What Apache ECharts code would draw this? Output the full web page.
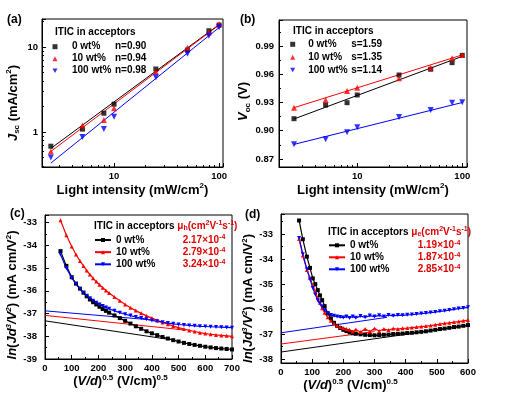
<!DOCTYPE html>
<html>
<head>
<meta charset="utf-8">
<script src="https://cdn.jsdelivr.net/npm/echarts@6/dist/echarts.min.js"></script>
<style>
    html, body { margin: 0; padding: 0; background: #fff; }
    #main { width: 508px; height: 399px; }
</style>
</head>
<body>
<div id="main"></div>
<script>
    // (a) Jsc vs light intensity
    var lightIntensity = [2.5, 5, 8, 10, 25, 50, 80, 100];
    var jsc0 = [0.68, 1.08, 1.66, 2.12, 5.5, 9.2, 15.5, 18.1];
    var jsc10 = [0.59, 1.19, 1.38, 1.90, 5.1, 9.8, 14.8, 18.5];
    var jsc100 = [0.50, 0.87, 1.08, 1.51, 4.4, 8.3, 13.5, 17.0];
    var fitX = [2.5, 100];
    var jscFit0 = [0.64, 18.3];
    var jscFit10 = [0.59, 18.1];
    var jscFit100 = [0.43, 16.9];

    // (b) Voc vs light intensity
    var voc0 = [0.9128, 0.9273, 0.9298, 0.938, 0.9592, 0.9653, 0.9723, 0.980];
    var voc10 = [0.9245, 0.9327, 0.9422, 0.9457, 0.9557, 0.967, 0.977, 0.9804];
    var voc100 = [0.8856, 0.8909, 0.8983, 0.9037, 0.9146, 0.922, 0.9298, 0.9302];
    var vocFit0 = [0.9125, 0.979];
    var vocFit10 = [0.9245, 0.9805];
    var vocFit100 = [0.8855, 0.930];

    // (c) hole-only SCLC
    var cX = [58, 80, 100, 116, 131, 144, 156, 168, 180, 192, 204, 216, 228, 240, 260, 280, 300, 320, 340, 360,
        380, 400, 420, 440, 460, 480, 500, 520, 540, 560, 580, 600, 620, 640, 660, 680, 700];
    var c0 = [-34.25, -34.9, -35.4, -35.68, -35.9, -36.08, -36.24, -36.38, -36.5, -36.6, -36.7, -36.8, -36.88, -36.96,
        -37.08, -37.2, -37.32, -37.44, -37.56, -37.67, -37.78, -37.87, -37.95, -38.03, -38.1, -38.17, -38.23, -38.29,
        -38.34, -38.38, -38.42, -38.46, -38.49, -38.52, -38.54, -38.56, -38.58];
    var c10 = [-32.89, -33.55, -34.05, -34.4, -34.68, -34.9, -35.1, -35.28, -35.44, -35.59, -35.73, -35.86, -35.98, -36.09,
        -36.27, -36.44, -36.6, -36.74, -36.87, -36.99, -37.1, -37.2, -37.3, -37.39, -37.47, -37.55, -37.62, -37.68,
        -37.74, -37.79, -37.84, -37.88, -37.91, -37.94, -37.96, -37.98, -38.0];
    var c100 = [-34.4, -35.0, -35.42, -35.7, -35.92, -36.08, -36.22, -36.33, -36.43, -36.52, -36.6, -36.67, -36.73, -36.79,
        -36.88, -36.96, -37.03, -37.09, -37.15, -37.2, -37.25, -37.3, -37.34, -37.38, -37.42, -37.45, -37.48, -37.5,
        -37.52, -37.54, -37.56, -37.57, -37.58, -37.59, -37.6, -37.61, -37.62];
    var cFitX0 = [0, 460], cFit0 = [-37.32, -38.13];
    var cFitX10 = [0, 520], cFit10 = [-37.08, -37.72];
    var cFitX100 = [0, 400], cFit100 = [-36.88, -37.28];

    // (d) electron-only SCLC
    var dX = [58, 70, 83, 93, 102, 110, 118, 125, 132, 140, 150, 160, 170, 180, 190, 200, 210, 220, 230, 240,
        255, 270, 285, 300, 315, 330, 345, 360, 375, 390, 405, 420, 435, 450, 465, 480, 495, 510, 525, 540, 555, 570, 585, 600];
    var d0 = [-32.45, -33.2, -33.9, -34.35, -34.77, -35.0, -35.24, -35.45, -35.64, -35.88,
        -36.17, -36.37, -36.55, -36.67, -36.76, -36.83, -36.88, -36.93, -36.97, -36.99,
        -37.01, -37.03, -37.04, -37.05, -37.04, -37.03, -37.02, -37.0, -36.99, -36.98, -36.96, -36.95,
        -36.93, -36.91, -36.89, -36.86, -36.83, -36.8, -36.78, -36.75, -36.72, -36.7, -36.67, -36.64];
    var d10 = [-33.19, -33.85, -34.43, -34.75, -35.04, -35.3, -35.55, -35.75, -35.97, -36.15,
        -36.33, -36.47, -36.58, -36.66, -36.72, -36.76, -36.8, -36.83, -36.9, -36.82,
        -36.92, -36.8, -36.9, -36.78, -36.88, -36.8, -36.84, -36.78, -36.8, -36.77, -36.76, -36.74,
        -36.72, -36.7, -36.68, -36.66, -36.63, -36.6, -36.57, -36.55, -36.52, -36.5, -36.47, -36.44];
    var d100 = [-33.15, -33.8, -34.4, -34.8, -35.15, -35.42, -35.65, -35.78, -35.9, -36.05,
        -36.17, -36.24, -36.27, -36.3, -36.32, -36.34, -36.3, -36.36, -36.3, -36.35,
        -36.28, -36.33, -36.26, -36.3, -36.25, -36.3, -36.24, -36.27, -36.24, -36.25, -36.23, -36.22,
        -36.2, -36.18, -36.16, -36.14, -36.12, -36.09, -36.07, -36.04, -36.01, -35.98, -35.96, -35.93];
    var dFitX0 = [0, 600], dFit0 = [-37.72, -36.66];
    var dFitX10 = [0, 300], dFit10 = [-37.4, -36.9];
    var dFitX100 = [0, 340], dFit100 = [-36.95, -36.33];

    // legend texts
    var wtLabels = ['0 wt%', '10 wt%', '100 wt%'];
    var nValues = ['0.90', '0.94', '0.98'];
    var sValues = ['1.59', '1.35', '1.14'];
    var muH = ['2.17', '2.79', '3.24'];
    var muE = ['1.19', '1.87', '2.85'];

    // minor tick positions
    var minorLogX = [3, 4, 5, 6, 7, 8, 9, 20, 30, 40, 50, 60, 70, 80, 90];
    var minorLogY = [0.4, 0.5, 0.6, 0.7, 0.8, 0.9, 2, 3, 4, 5, 6, 7, 8, 9, 20];

    var colors = ['#000000', '#ff0000', '#0000ff'];
    var downTri = 'path://M0,0L10,0L5,9Z';
    var symbols = ['rect', 'triangle', downTri];
    var FONT = 'Liberation Sans, Arial, sans-serif';

    function pairs(xs, ys) {
        return xs.map(function(x, i) { return [x, ys[i]]; });
    }

    var richTitle = {
        n: { fontSize: 13, fontWeight: 'bold', fontFamily: FONT, lineHeight: 16, color: '#000' },
        i: { fontSize: 13, fontWeight: 'bold', fontStyle: 'italic', fontFamily: FONT, lineHeight: 16, color: '#000' },
        sup: { fontSize: 8, fontWeight: 'bold', fontFamily: FONT, verticalAlign: 'top', lineHeight: 8, color: '#000' },
        isup: { fontSize: 8, fontWeight: 'bold', fontStyle: 'italic', fontFamily: FONT, verticalAlign: 'top', lineHeight: 8, color: '#000' },
        sub: { fontSize: 8, fontWeight: 'bold', fontFamily: FONT, verticalAlign: 'bottom', lineHeight: 8, color: '#000' }
    };

    function nameStyle(pad) {
        return { fontSize: 13, fontWeight: 'bold', fontFamily: FONT, color: '#000', rich: richTitle, padding: pad || 0 };
    }

    function logLabel(v) {
        var l = Math.log(v) / Math.LN10;
        return Math.abs(l - Math.round(l)) < 1e-6 ? String(Math.round(v)) : '';
    }

    function intLabel(v) {
        return Math.abs(v - Math.round(v)) < 1e-6 ? String(Math.round(v)) : '';
    }

    function vocLabel(v) {
        var k = v / 0.03;
        return Math.abs(k - Math.round(k)) < 1e-6 ? v.toFixed(2) : '';
    }

    var axisLineStyle = { lineStyle: { color: '#000', width: 1 } };
    var labelStyle = { fontSize: 9.5, fontWeight: 'bold', fontFamily: FONT, color: '#000' };

    function mainAxis(extra) {
        var base = {
            axisLine: axisLineStyle,
            axisTick: { inside: true, length: 4, lineStyle: { color: '#000' } },
            minorTick: { show: false },
            splitLine: { show: false },
            nameLocation: 'middle'
        };
        for (var k in extra) base[k] = extra[k];
        return base;
    }

    function minorAxis(extra) {
        var base = {
            axisLine: { show: false },
            axisLabel: { show: false },
            splitLine: { show: false }
        };
        for (var k in extra) base[k] = extra[k];
        return base;
    }

    var xAxes = [
        mainAxis({
            gridIndex: 0, type: 'log', min: 2.06, max: 109,
            axisLabel: Object.assign({ margin: 4, formatter: logLabel }, labelStyle),
            name: 'Light intensity {n|(mW/cm}{sup|2}{n|)}', nameGap: 15, nameTextStyle: nameStyle()
        }),
        mainAxis({
            gridIndex: 1, type: 'log', min: 1.8, max: 110.9,
            axisLabel: Object.assign({ margin: 4, formatter: logLabel }, labelStyle),
            name: 'Light intensity {n|(mW/cm}{sup|2}{n|)}', nameGap: 15, nameTextStyle: nameStyle()
        }),
        mainAxis({
            gridIndex: 2, type: 'value', min: 0, max: 700, interval: 100,
            minorTick: { show: true, splitNumber: 2, length: 2, lineStyle: { color: '#000' } },
            axisLabel: Object.assign({ margin: 4 }, labelStyle),
            name: '{n|(}{i|V/d}{n|)}{sup|0.5}{n| (V/cm)}{sup|0.5}', nameGap: 14, nameTextStyle: nameStyle([0, 36, 0, 0])
        }),
        mainAxis({
            gridIndex: 3, type: 'value', min: 0, max: 600, interval: 100,
            minorTick: { show: true, splitNumber: 2, length: 2, lineStyle: { color: '#000' } },
            axisLabel: Object.assign({ margin: 4 }, labelStyle),
            name: '{n|(}{i|V/d}{n|)}{sup|0.5}{n| (V/cm)}{sup|0.5}', nameGap: 14, nameTextStyle: nameStyle([0, 48, 0, 0])
        }),
        minorAxis({
            gridIndex: 0, type: 'log', min: 2.06, max: 109, position: 'bottom',
            axisTick: { inside: true, length: 2, lineStyle: { color: '#000' }, customValues: minorLogX }
        }),
        minorAxis({
            gridIndex: 1, type: 'log', min: 1.8, max: 110.9, position: 'bottom',
            axisTick: { inside: true, length: 2, lineStyle: { color: '#000' }, customValues: minorLogX }
        })
    ];

    var yAxes = [
        mainAxis({
            gridIndex: 0, type: 'log', min: 0.387, max: 21.3,
            axisLabel: Object.assign({ margin: 4, formatter: logLabel }, labelStyle),
            name: '{i|J}{sub|sc}{n| (mA/cm}{sup|2}{n|)}', nameGap: 21, nameTextStyle: nameStyle([0, 20, 0, 0])
        }),
        mainAxis({
            gridIndex: 1, type: 'value', min: 0.8615, max: 1.0176,
            minorTick: { show: true, splitNumber: 2, length: 2, lineStyle: { color: '#000' } },
            axisLabel: Object.assign({ margin: 5, formatter: vocLabel }, labelStyle),
            name: '{i|V}{sub|oc}{n| (V)}', nameGap: 25, nameTextStyle: nameStyle([0, 16, 0, 0])
        }),
        mainAxis({
            gridIndex: 2, type: 'value', min: -39, max: -32.66, interval: 1,
            minorTick: { show: true, splitNumber: 2, length: 2, lineStyle: { color: '#000' } },
            axisLabel: Object.assign({ margin: 8, formatter: intLabel }, labelStyle),
            name: '{i|ln}{n|(}{i|Jd}{isup|3}{i|/V}{isup|2}{n|) (mA cm/V}{sup|2}{n|)}', nameGap: 23,
            nameTextStyle: nameStyle([0, 16, 0, 0])
        }),
        mainAxis({
            gridIndex: 3, type: 'value', min: -38.16, max: -32.19,
            minorTick: { show: true, splitNumber: 2, length: 2, lineStyle: { color: '#000' } },
            axisLabel: Object.assign({ margin: 8, formatter: intLabel }, labelStyle),
            name: '{i|ln}{n|(}{i|Jd}{isup|3}{i|/V}{isup|2}{n|) (mA cm/V}{sup|2}{n|)}', nameGap: 23,
            nameTextStyle: nameStyle([0, 20, 0, 0])
        }),
        minorAxis({
            gridIndex: 0, type: 'log', min: 0.387, max: 21.3, position: 'left',
            axisTick: { inside: true, length: 2, lineStyle: { color: '#000' }, customValues: minorLogY }
        })
    ];

    var series = [];
    var panelNames = { a: [], b: [], c: [], d: [] };

    function addScatter(panel, idx, axisIdx, xs, ys, fitYs) {
        var name = panel + idx;
        panelNames[panel].push(name);
        series.push({
            name: name, type: 'scatter', xAxisIndex: axisIdx, yAxisIndex: axisIdx,
            symbol: symbols[idx], symbolSize: idx === 0 ? 5 : 6,
            itemStyle: { color: colors[idx] }, z: 3,
            data: pairs(xs, ys)
        });
        series.push({
            name: name + 'fit', type: 'line', xAxisIndex: axisIdx, yAxisIndex: axisIdx,
            symbol: 'none', lineStyle: { color: colors[idx], width: 1 }, z: 2, silent: true,
            data: pairs(fitX, fitYs)
        });
    }

    function addCurve(panel, idx, axisIdx, xs, ys, fxs, fys) {
        var name = panel + idx;
        panelNames[panel].push(name);
        series.push({
            name: name, type: 'line', xAxisIndex: axisIdx, yAxisIndex: axisIdx,
            symbol: symbols[idx], symbolSize: 4, showAllSymbol: true,
            itemStyle: { color: colors[idx] }, lineStyle: { color: colors[idx], width: 1.2 }, z: 3,
            data: pairs(xs, ys)
        });
        series.push({
            name: name + 'fit', type: 'line', xAxisIndex: axisIdx, yAxisIndex: axisIdx,
            symbol: 'none', lineStyle: { color: colors[idx], width: 1 }, z: 2, silent: true,
            data: pairs(fxs, fys)
        });
    }

    addScatter('a', 0, 0, lightIntensity, jsc0, jscFit0);
    addScatter('a', 1, 0, lightIntensity, jsc10, jscFit10);
    addScatter('a', 2, 0, lightIntensity, jsc100, jscFit100);
    addScatter('b', 0, 1, lightIntensity, voc0, vocFit0);
    addScatter('b', 1, 1, lightIntensity, voc10, vocFit10);
    addScatter('b', 2, 1, lightIntensity, voc100, vocFit100);
    addCurve('c', 0, 2, cX, c0, cFitX0, cFit0);
    addCurve('c', 1, 2, cX, c10, cFitX10, cFit10);
    addCurve('c', 2, 2, cX, c100, cFitX100, cFit100);
    addCurve('d', 0, 3, dX, d0, dFitX0, dFit0);
    addCurve('d', 1, 3, dX, d10, dFitX10, dFit10);
    addCurve('d', 2, 3, dX, d100, dFitX100, dFit100);

    var legendText = { fontSize: 10, fontWeight: 'bold', fontFamily: FONT, color: '#000', lineHeight: 12 };

    function scatterLegend(panel, left, top, gap, spacer, label, values) {
        return {
            data: panelNames[panel], left: left, top: top, orient: 'vertical', padding: 0,
            itemWidth: 5, itemHeight: 5, itemGap: gap, selectedMode: false,
            textStyle: Object.assign({
                rich: {
                    g: { width: spacer },
                    a: Object.assign({ width: 43 }, legendText),
                    b: legendText
                }
            }, legendText),
            formatter: function(name) {
                var i = panelNames[panel].indexOf(name);
                return '{g|}{a|' + wtLabels[i] + '}{b|' + label + '=' + values[i] + '}';
            }
        };
    }

    function curveLegend(panel, left, top, gap, colWidth, values) {
        var red = Object.assign({}, legendText, { color: '#e00000' });
        return {
            data: panelNames[panel], left: left, top: top, orient: 'vertical', padding: 0,
            itemWidth: 16, itemHeight: 5, itemGap: gap, selectedMode: false,
            textStyle: Object.assign({
                rich: {
                    a: Object.assign({ width: colWidth }, legendText),
                    v: red,
                    e: Object.assign({}, red, { fontSize: 7, lineHeight: 7, verticalAlign: 'top' })
                }
            }, legendText),
            formatter: function(name) {
                var i = panelNames[panel].indexOf(name);
                return '{a|' + wtLabels[i] + '}{v|' + values[i] + '×10}{e|-4}';
            }
        };
    }

    var legendTitleRich = {
        t: legendText,
        m: Object.assign({}, legendText, { color: '#e00000' }),
        s: Object.assign({}, legendText, { color: '#e00000', fontSize: 7, lineHeight: 7, verticalAlign: 'bottom' }),
        p: Object.assign({}, legendText, { color: '#e00000', fontSize: 7, lineHeight: 7, verticalAlign: 'top' })
    };

    function textTitle(text, left, top, size) {
        return {
            text: text, left: left, top: top, padding: 0,
            textStyle: { fontSize: size, fontWeight: 'bold', fontFamily: FONT, color: '#000', lineHeight: 12, rich: legendTitleRich }
        };
    }

    var option = {
        animation: false,
        backgroundColor: '#fff',
        textStyle: { fontFamily: FONT },
        title: [
            textTitle('(a)', 7, 14, 12),
            textTitle('(b)', 240, 14, 12),
            textTitle('(c)', 10, 208, 12),
            textTitle('(d)', 245, 209, 12),
            textTitle('ITIC in acceptors', 55, 26, 10),
            textTitle('ITIC in acceptors', 293, 25, 10),
            textTitle('{t|ITIC in acceptors }{m|μ}{s|h}{m|(cm}{p|2}{m|V}{p|-1}{m|s}{p|-1}{m|)}', 94, 220, 10),
            textTitle('{t|ITIC in acceptors }{m|μ}{s|e}{m|(cm}{p|2}{m|V}{p|-1}{m|s}{p|-1}{m|)}', 328, 226, 10)
        ],
        legend: [
            scatterLegend('a', 52.5, 40.7, 0, 9.5, 'n', nValues),
            scatterLegend('b', 290.2, 38.3, 0.85, 8, 's', sValues),
            curveLegend('c', 94, 234, 0.15, 66.7, muH),
            curveLegend('d', 328, 239.3, 0, 67.7, muE)
        ],
        grid: [
            { left: 42, top: 19, width: 181, height: 148, show: true, borderColor: '#000', borderWidth: 1 },
            { left: 279, top: 20, width: 188, height: 147, show: true, borderColor: '#000', borderWidth: 1 },
            { left: 45, top: 215, width: 187, height: 144, show: true, borderColor: '#000', borderWidth: 1 },
            { left: 281, top: 214, width: 187, height: 149, show: true, borderColor: '#000', borderWidth: 1 }
        ],
        xAxis: xAxes,
        yAxis: yAxes,
        series: series
    };

    var myChart = echarts.init(document.getElementById('main'));
    myChart.setOption(option);
</script>
</body>
</html>
